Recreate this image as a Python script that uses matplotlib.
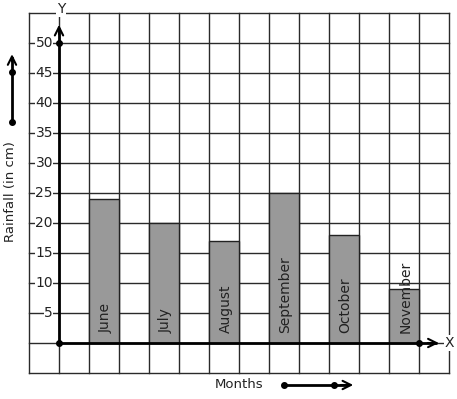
import numpy as np
import matplotlib
matplotlib.use("Agg")
import matplotlib.pyplot as plt

months = ["June", "July", "August", "September", "October", "November"]
rainfall = [24, 20, 17, 25, 18, 9]
y_ticks = [5, 10, 15, 20, 25, 30, 35, 40, 45, 50]

W, H = 457, 399
fig = plt.figure(figsize=(W / 100, H / 100), dpi=100)
ax = fig.add_axes([0, 0, 1, 1])
# one grid cell = 30 px wide, 5 units (30 px) tall; origin at pixel (59, 343)
ax.set_xlim(-59 / 30, (W - 59) / 30)
ax.set_ylim((343 - H) / 6, 343 / 6)
ax.axis("off")

# square grid paper
grid_c = "#2a2a2a"
for gx in range(-1, 14):
    ax.plot([gx, gx], [-5, 55], color=grid_c, lw=1, zorder=1)
for gy in range(-5, 60, 5):
    ax.plot([-1, 13], [gy, gy], color=grid_c, lw=1, zorder=1)

# bars
xpos = 1.5 + 2 * np.arange(len(months))
ax.bar(xpos, rainfall, width=1, color="#999999", edgecolor="#222222", lw=1, zorder=2)
for x, m in zip(xpos, months):
    ax.text(x + 0.05, 1.6, m, rotation=90, ha="center", va="bottom", fontsize=10,
            color="#222222", zorder=3)

# axes with arrows
ax.plot([0, 12.6], [0, 0], color="black", lw=2, zorder=4, solid_capstyle="butt")
ax.plot([0, 0], [0, 52.5], color="black", lw=2, zorder=4, solid_capstyle="butt")
ax.annotate("", xy=(12.75, 0), xytext=(12.2, 0),
            arrowprops=dict(arrowstyle="->", color="black", lw=1.5, mutation_scale=15), zorder=4)
ax.annotate("", xy=(0, 53.5), xytext=(0, 51),
            arrowprops=dict(arrowstyle="->", color="black", lw=1.5, mutation_scale=15), zorder=4)
ax.plot([0, 0, 12], [0, 50, 0], "o", color="black", ms=4, zorder=5)

ax.text(13.0, 0, "X", ha="center", va="center", fontsize=10, color="#222222",
        bbox=dict(fc="white", ec="none", pad=0.5), zorder=5)
ax.text(0.07, 55.6, "Y", ha="center", va="center", fontsize=10, color="#222222",
        bbox=dict(fc="white", ec="none", pad=0.5), zorder=5)

# y tick labels
for t in y_ticks:
    ax.text(-0.2, t, str(t), ha="right", va="center", fontsize=10, color="#222222",
            bbox=dict(fc="white", ec="none", pad=0.3), zorder=5)

# left axis title with arrow
ax.text(-1.6, 25.3, "Rainfall (in cm)", rotation=90, ha="center", va="center",
        fontsize=9.5, color="#222222")
ax.plot([-1.567, -1.567], [36.8, 47.5], color="black", lw=2)
ax.annotate("", xy=(-1.567, 48.6), xytext=(-1.567, 46.5),
            arrowprops=dict(arrowstyle="->", color="black", lw=1.5, mutation_scale=15))
ax.plot([-1.567, -1.567], [36.8, 45.2], "o", color="black", ms=4)

# bottom axis title with arrow
ax.text(6.0, -7.0, "Months", ha="center", va="center", fontsize=9.5, color="#222222")
ax.plot([7.5, 9.6], [-7.0, -7.0], color="black", lw=2)
ax.annotate("", xy=(9.9, -7.0), xytext=(9.3, -7.0),
            arrowprops=dict(arrowstyle="->", color="black", lw=1.5, mutation_scale=15))
ax.plot([7.5, 9.17], [-7.0, -7.0], "o", color="black", ms=4)

fig.savefig("out.png", dpi=100)
